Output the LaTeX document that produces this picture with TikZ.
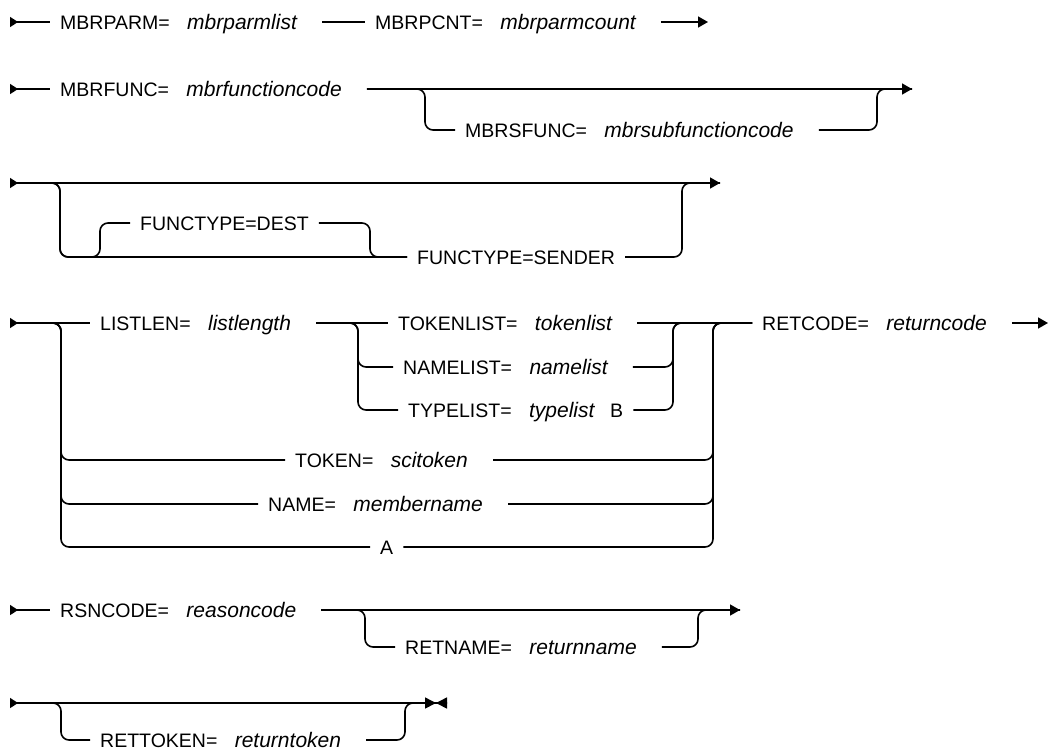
\documentclass[tikz,border=0pt]{standalone}
\usepackage{fontspec}
\setmainfont{Liberation Sans}
\usepackage{tikz}
\usetikzlibrary{positioning, arrows.meta}

\begin{document}
\begin{tikzpicture}[
    x=1pt, y=-1pt,
    track/.style={line width=1.6pt, rounded corners=8pt},
    entry/.style={{Triangle[reversed, length=8pt, width=10pt]}-},
    onward/.style={-{Triangle[length=10pt, width=11pt]}},
    through/.style={{Triangle[reversed, length=8pt, width=10pt]}-{Triangle[length=10pt, width=11pt]}},
    closed/.style={{Triangle[reversed, length=8pt, width=10pt]}-{Triangle[length=11pt, width=11pt] Triangle[reversed, length=11pt, width=11pt]}},
    kw/.style={font=\fontsize{19.5}{22}\selectfont, anchor=west, inner xsep=10pt, inner ysep=0pt,
               text height=16pt, text depth=2pt},
    var/.style={font=\fontsize{21}{24}\selectfont\itshape, inner xsep=25pt, inner ysep=0pt,
                text height=16pt, text depth=2pt}
]
\useasboundingbox (0,0) rectangle (1049,753);

% ---- MBRPARM / MBRPCNT ----
\coordinate (s1) at (10,22);
\node[kw] (kparm) at (50,22) {MBRPARM=};
\node[var, right=-18pt of kparm] (vparm) {mbrparmlist};
\node[kw] (kpcnt) at (365,22) {MBRPCNT=};
\node[var, right=-18pt of kpcnt] (vpcnt) {mbrparmcount};
\coordinate (e1) at (708,22);
\draw[track, entry] (s1) -- (kparm);
\draw[track] (vparm) -- (kpcnt);
\draw[track, onward] (vpcnt) -- (e1);

% ---- MBRFUNC / MBRSFUNC ----
\coordinate (s2) at (10,89);
\node[kw] (kfunc) at (50,89) {MBRFUNC=};
\node[var, right=-18pt of kfunc] (vfunc) {mbrfunctioncode};
\coordinate (b2) at (425,130);
\node[kw] (ksfunc) at (455,130) {MBRSFUNC=};
\node[var, right=-18pt of ksfunc] (vsfunc) {mbrsubfunctioncode};
\coordinate (j2) at (877,89);
\coordinate (e2) at (912,89);
\draw[track, entry] (s2) -- (kfunc);
\draw[track] (vfunc) -| (b2) -- (ksfunc);
\draw[track] (vsfunc) -| (j2) -- (e2);
\draw[track, onward] (vfunc) -- (e2);

% ---- FUNCTYPE ----
\coordinate (s3) at (10,183);
\coordinate (e3) at (720,183);
\coordinate (a3) at (60,257);
\coordinate (b3) at (100,257);
\coordinate (c3) at (370,257);
\coordinate (j3) at (682,183);
\node[kw] (kdest) at (130,223) {FUNCTYPE=DEST};
\node[kw] (ksender) at (407,257) {FUNCTYPE=SENDER};
\draw[track] (s3) -| (a3) -- (ksender);
\draw[track] (s3) -| (a3) -- (b3) |- (kdest);
\draw[track] (kdest) -| (c3) -- (ksender);
\draw[track] (ksender) -| (j3) -- (e3);
\draw[track, through] (s3) -- (e3);

% ---- LISTLEN / TOKEN / NAME / RETCODE ----
\coordinate (s4) at (10,323);
\node[kw] (klisten) at (90,323) {LISTLEN=};
\node[var, right=-18pt of klisten] (vlisten) {listlength};
\node[kw] (ktoklist) at (388,323) {TOKENLIST=};
\node[var, right=-18pt of ktoklist] (vtoklist) {tokenlist};
\node[kw] (knamlist) at (393,367) {NAMELIST=};
\node[var, right=-18pt of knamlist] (vnamlist) {namelist};
\node[kw] (ktyplist) at (398,410) {TYPELIST=};
\node[var, right=-18pt of ktyplist] (vtyplist) {typelist};
\node[kw] (kb) at (600,410) {B};
\node[kw] (ktoken) at (285,460) {TOKEN=};
\node[var, right=-18pt of ktoken] (vtoken) {scitoken};
\node[kw] (kname) at (258,504) {NAME=};
\node[var, right=-18pt of kname] (vname) {membername};
\node[kw] (ka) at (370,547) {A};
\node[kw] (kretcode) at (752,323) {RETCODE=};
\node[var, right=-18pt of kretcode] (vretcode) {returncode};
\coordinate (c4a) at (358,367);
\coordinate (c4b) at (358,410);
\coordinate (c4c) at (673,323);
\coordinate (c4d) at (61,460);
\coordinate (c4f) at (61,504);
\coordinate (c4g) at (61,547);
\coordinate (c4e) at (713,323);
\coordinate (e4) at (1048,323);
\draw[track, entry] (s4) -- (klisten);
\draw[track] (vlisten) -- (ktoklist);
\draw[track] (vlisten) -| (c4a) -- (knamlist);
\draw[track] (vlisten) -| (c4b) -- (ktyplist);
\draw[track] (vtoklist) -- (kretcode);
\draw[track] (vnamlist) -| (c4c) -- (kretcode);
\draw[track] (kb) -| (c4c) -- (kretcode);
\draw[track] (s4) -| (c4d) -- (ktoken);
\draw[track] (s4) -| (c4f) -- (kname);
\draw[track] (s4) -| (c4g) -- (ka);
\draw[track] (vtoken) -| (c4e) -- (kretcode);
\draw[track] (vname) -| (c4e) -- (kretcode);
\draw[track] (ka) -| (c4e) -- (kretcode);
\draw[track, onward] (vretcode) -- (e4);

% ---- RSNCODE / RETNAME ----
\coordinate (s5) at (10,610);
\node[kw] (krsn) at (50,610) {RSNCODE=};
\node[var, right=-18pt of krsn] (vrsn) {reasoncode};
\coordinate (a5) at (365,647);
\node[kw] (kretname) at (395,647) {RETNAME=};
\node[var, right=-18pt of kretname] (vretname) {returnname};
\coordinate (j5) at (698,610);
\coordinate (e5) at (740,610);
\draw[track, entry] (s5) -- (krsn);
\draw[track] (vrsn) -| (a5) -- (kretname);
\draw[track] (vretname) -| (j5) -- (e5);
\draw[track, onward] (vrsn) -- (e5);

% ---- RETTOKEN ----
\coordinate (s6) at (10,703);
\coordinate (a6) at (61,740);
\node[kw] (krettok) at (90,740) {RETTOKEN=};
\node[var, right=-18pt of krettok] (vrettok) {returntoken};
\coordinate (j6) at (405,703);
\coordinate (e6) at (447,703);
\draw[track] (s6) -| (a6) -- (krettok);
\draw[track] (vrettok) -| (j6) -- (e6);
\draw[track, closed] (s6) -- (e6);

\end{tikzpicture}
\end{document}
